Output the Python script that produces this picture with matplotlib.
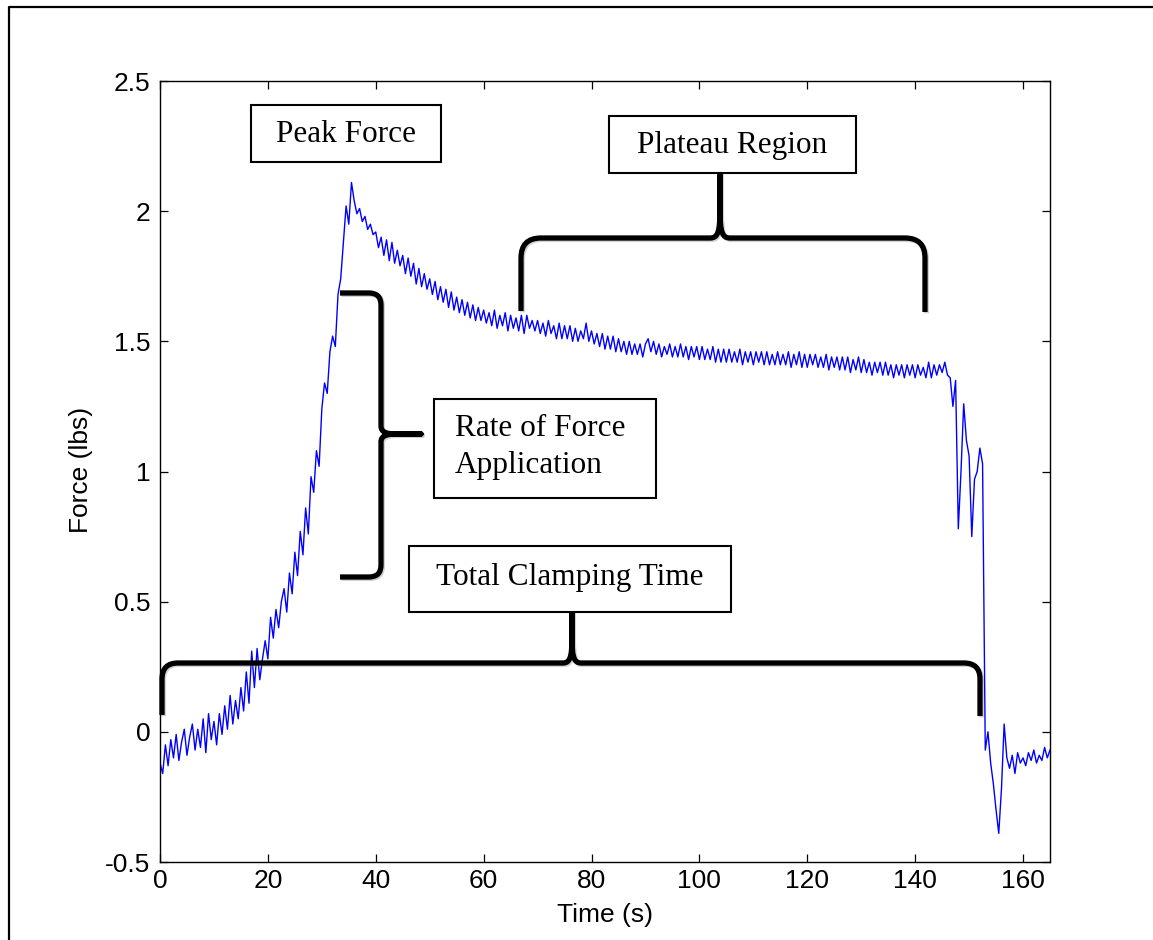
import numpy as np
import matplotlib
matplotlib.use("Agg")
import matplotlib.pyplot as plt
from matplotlib.path import Path
from matplotlib.patches import PathPatch, Rectangle
import matplotlib.patheffects as pe

# ---------------- data ----------------
time_s = np.arange(0, 165.5, 0.5)  # sampling grid, 0.5 s

force_lbs = [
    # 0 - 9.5 s
    -0.12, -0.16, -0.05, -0.13, -0.03, -0.10, -0.01, -0.11, -0.04, 0.01,
    -0.09, -0.02, 0.03, -0.07, 0.01, -0.06, 0.05, -0.08, 0.07, -0.03,
    # 10 - 19.5 s
    0.04, -0.05, 0.07, -0.01, 0.10, 0.01, 0.14, 0.03, 0.12, 0.05,
    0.17, 0.08, 0.23, 0.11, 0.31, 0.17, 0.32, 0.20, 0.28, 0.35,
    # 20 - 29.5 s
    0.28, 0.44, 0.36, 0.47, 0.40, 0.50, 0.55, 0.46, 0.61, 0.53,
    0.69, 0.60, 0.77, 0.68, 0.86, 0.76, 0.98, 0.92, 1.08, 1.02,
    # 30 - 39.5 s
    1.24, 1.34, 1.30, 1.46, 1.52, 1.48, 1.68, 1.74, 1.88, 2.02,
    1.95, 2.11, 2.04, 1.99, 2.01, 1.96, 1.98, 1.93, 1.95, 1.91,
    # 40 - 49.5 s
    1.92, 1.86, 1.90, 1.83, 1.89, 1.81, 1.88, 1.80, 1.85, 1.79,
    1.83, 1.76, 1.82, 1.75, 1.80, 1.72, 1.78, 1.71, 1.76, 1.70,
    # 50 - 59.5 s
    1.74, 1.68, 1.73, 1.66, 1.71, 1.65, 1.70, 1.63, 1.69, 1.62,
    1.67, 1.61, 1.66, 1.60, 1.65, 1.59, 1.64, 1.58, 1.63, 1.58,
    # 60 - 69.5 s
    1.62, 1.57, 1.61, 1.56, 1.62, 1.55, 1.60, 1.56, 1.61, 1.54,
    1.60, 1.55, 1.59, 1.54, 1.60, 1.53, 1.60, 1.55, 1.58, 1.54,
    # 70 - 79.5 s
    1.58, 1.53, 1.57, 1.52, 1.58, 1.53, 1.56, 1.51, 1.57, 1.51,
    1.56, 1.51, 1.56, 1.50, 1.55, 1.50, 1.54, 1.51, 1.57, 1.50,
    # 80 - 89.5 s
    1.54, 1.49, 1.53, 1.48, 1.53, 1.47, 1.52, 1.47, 1.52, 1.46,
    1.51, 1.46, 1.50, 1.45, 1.50, 1.45, 1.49, 1.45, 1.49, 1.44,
    # 90 - 99.5 s
    1.49, 1.51, 1.46, 1.50, 1.45, 1.49, 1.44, 1.48, 1.45, 1.49,
    1.44, 1.48, 1.44, 1.49, 1.44, 1.48, 1.43, 1.48, 1.44, 1.48,
    # 100 - 109.5 s
    1.43, 1.48, 1.43, 1.47, 1.43, 1.48, 1.42, 1.47, 1.42, 1.47,
    1.42, 1.47, 1.42, 1.46, 1.42, 1.47, 1.41, 1.46, 1.42, 1.46,
    # 110 - 119.5 s
    1.41, 1.46, 1.42, 1.46, 1.41, 1.46, 1.41, 1.45, 1.41, 1.46,
    1.41, 1.45, 1.41, 1.46, 1.40, 1.45, 1.41, 1.46, 1.40, 1.45,
    # 120 - 129.5 s
    1.40, 1.45, 1.41, 1.45, 1.40, 1.44, 1.40, 1.45, 1.39, 1.44,
    1.40, 1.44, 1.39, 1.44, 1.39, 1.44, 1.38, 1.43, 1.39, 1.44,
    # 130 - 139.5 s
    1.38, 1.43, 1.38, 1.42, 1.37, 1.42, 1.38, 1.42, 1.37, 1.42,
    1.37, 1.41, 1.36, 1.41, 1.37, 1.41, 1.36, 1.41, 1.37, 1.41,
    # 140 - 149.5 s
    1.36, 1.41, 1.37, 1.40, 1.36, 1.42, 1.36, 1.41, 1.37, 1.41,
    1.38, 1.42, 1.37, 1.36, 1.25, 1.35, 0.78, 1.00, 1.26, 1.12,
    # 150 - 159.5 s
    1.06, 0.75, 0.97, 1.00, 1.09, 1.03, -0.07, 0.00, -0.12, -0.20,
    -0.30, -0.39, -0.22, 0.03, -0.10, -0.14, -0.09, -0.16, -0.08, -0.12,
    # 160 - 165 s
    -0.10, -0.13, -0.08, -0.11, -0.07, -0.12, -0.09, -0.11, -0.06, -0.10, -0.07,
]

x_ticks = [0, 20, 40, 60, 80, 100, 120, 140, 160]
y_ticks = [-0.5, 0, 0.5, 1, 1.5, 2, 2.5]
y_tick_labels = ["-0.5", "0", "0.5", "1", "1.5", "2", "2.5"]
x_label = "Time (s)"
y_label = "Force (lbs)"

label_peak = "Peak Force"
label_plateau = "Plateau Region"
label_rate = ["Rate of Force", "Application"]
label_total = "Total Clamping Time"

# ---------------- figure ----------------
W, H = 1153, 940
fig = plt.figure(figsize=(W / 100, H / 100), dpi=100)
fig.patch.set_facecolor("white")

ax_l, ax_r, ax_t, ax_b = 160, 1050, 81, 862
ax = fig.add_axes([ax_l / W, 1 - ax_b / H, (ax_r - ax_l) / W, (ax_b - ax_t) / H])
ax.plot(time_s, force_lbs, color="#0000ff", lw=1.0)
ax.set_xlim(0, 165)
ax.set_ylim(-0.5, 2.5)
ax.set_xticks(x_ticks)
ax.set_xticklabels([str(v) for v in x_ticks])
ax.set_yticks(y_ticks)
ax.set_yticklabels(y_tick_labels)
tick_font = "Liberation Sans"
ax.tick_params(direction="in", length=5.5, width=0.9, top=True, right=True,
               labelsize=19, colors="black")
ax.tick_params(axis="x", pad=5)
ax.tick_params(axis="y", pad=7)
for lab in ax.get_xticklabels() + ax.get_yticklabels():
    lab.set_fontfamily(tick_font)
for sp in ax.spines.values():
    sp.set_linewidth(1.0)
    sp.set_color("black")

ax.set_xlabel(x_label, fontsize=19, fontfamily=tick_font, va="center")
ax.xaxis.set_label_coords(0.5, (ax_b - 915) / (ax_b - ax_t))
ax.set_ylabel(y_label, fontsize=19, fontfamily=tick_font, va="center")
ax.yaxis.set_label_coords((81 - ax_l) / (ax_r - ax_l), (ax_b - 470) / (ax_b - ax_t))

# ---------------- overlay in pixel coordinates ----------------
ov = fig.add_axes([0, 0, 1, 1])
ov.set_xlim(0, W)
ov.set_ylim(H, 0)
ov.axis("off")

# outer border (left and top edges visible)
ov.plot([9, 9, W + 10], [H + 10, 7, 7], color="black", lw=1.6, clip_on=False,
        solid_capstyle="butt")

shadow = [pe.SimpleLineShadow(offset=(1.0, -1.0), shadow_color="0.5", alpha=0.35),
          pe.Normal()]
BRACE_LW = 3.8


def hbrace(x0, x1, y, yend0, yend1, xc, ytip, r=18, rc=10, hc=28):
    verts = [(x0, yend0), (x0, y + r), (x0, y), (x0 + r, y),
             (xc - rc, y), (xc - 2, y), (xc, y - 6), (xc, y - hc),
             (xc, ytip), (xc, y - hc),
             (xc, y - 6), (xc + 2, y), (xc + rc, y),
             (x1 - r, y), (x1, y), (x1, y + r), (x1, yend1)]
    codes = [Path.MOVETO, Path.LINETO, Path.CURVE3, Path.CURVE3,
             Path.LINETO, Path.CURVE4, Path.CURVE4, Path.CURVE4,
             Path.LINETO, Path.LINETO,
             Path.CURVE4, Path.CURVE4, Path.CURVE4,
             Path.LINETO, Path.CURVE3, Path.CURVE3, Path.LINETO]
    p = PathPatch(Path(verts, codes), facecolor="none", edgecolor="black",
                  lw=BRACE_LW, capstyle="butt", joinstyle="round",
                  path_effects=shadow, zorder=3)
    ov.add_patch(p)


def vbrace(y0, y1, x, xend, yc, xtip, r=12, rc=8, hc=16):
    verts = [(xend, y0), (x - r, y0), (x, y0), (x, y0 + r),
             (x, yc - rc), (x, yc - 2), (x + 5, yc), (x + hc, yc),
             (xtip, yc), (x + hc, yc),
             (x + 5, yc), (x, yc + 2), (x, yc + rc),
             (x, y1 - r), (x, y1), (x - r, y1), (xend, y1)]
    codes = [Path.MOVETO, Path.LINETO, Path.CURVE3, Path.CURVE3,
             Path.LINETO, Path.CURVE4, Path.CURVE4, Path.CURVE4,
             Path.LINETO, Path.LINETO,
             Path.CURVE4, Path.CURVE4, Path.CURVE4,
             Path.LINETO, Path.CURVE3, Path.CURVE3, Path.LINETO]
    p = PathPatch(Path(verts, codes), facecolor="none", edgecolor="black",
                  lw=BRACE_LW, capstyle="butt", joinstyle="round",
                  path_effects=shadow, zorder=3)
    ov.add_patch(p)


def box(x0, y0, x1, y1):
    ov.add_patch(Rectangle((x0, y0), x1 - x0, y1 - y0, facecolor="white",
                           edgecolor="black", lw=1.5, zorder=4))


serif = "Liberation Serif"
ANN_FS = 22.5

# Peak Force
box(251, 105, 441, 162)
ov.text(346, 134, label_peak, fontsize=ANN_FS, fontfamily=serif,
        ha="center", va="center", zorder=5)

# Plateau Region
hbrace(521, 925, 238, 311, 312, 720, 174, r=20, rc=10, hc=30)
box(609, 116, 856, 173)
ov.text(732, 145, label_plateau, fontsize=ANN_FS, fontfamily=serif,
        ha="center", va="center", zorder=5)

# Rate of Force Application
vbrace(293, 577, 381, 340, 434, 421, r=12, rc=8, hc=16)
box(434, 399, 656, 498)
ov.text(455, 429, label_rate[0], fontsize=ANN_FS, fontfamily=serif,
        ha="left", va="center", zorder=5)
ov.text(455, 466, label_rate[1], fontsize=ANN_FS, fontfamily=serif,
        ha="left", va="center", zorder=5)

# Total Clamping Time
hbrace(162, 980, 663, 715, 716, 572, 612, r=16, rc=9, hc=26)
box(409, 546, 731, 612)
ov.text(570, 577, label_total, fontsize=ANN_FS, fontfamily=serif,
        ha="center", va="center", zorder=5)

fig.savefig("out.png", dpi=100, facecolor="white")
